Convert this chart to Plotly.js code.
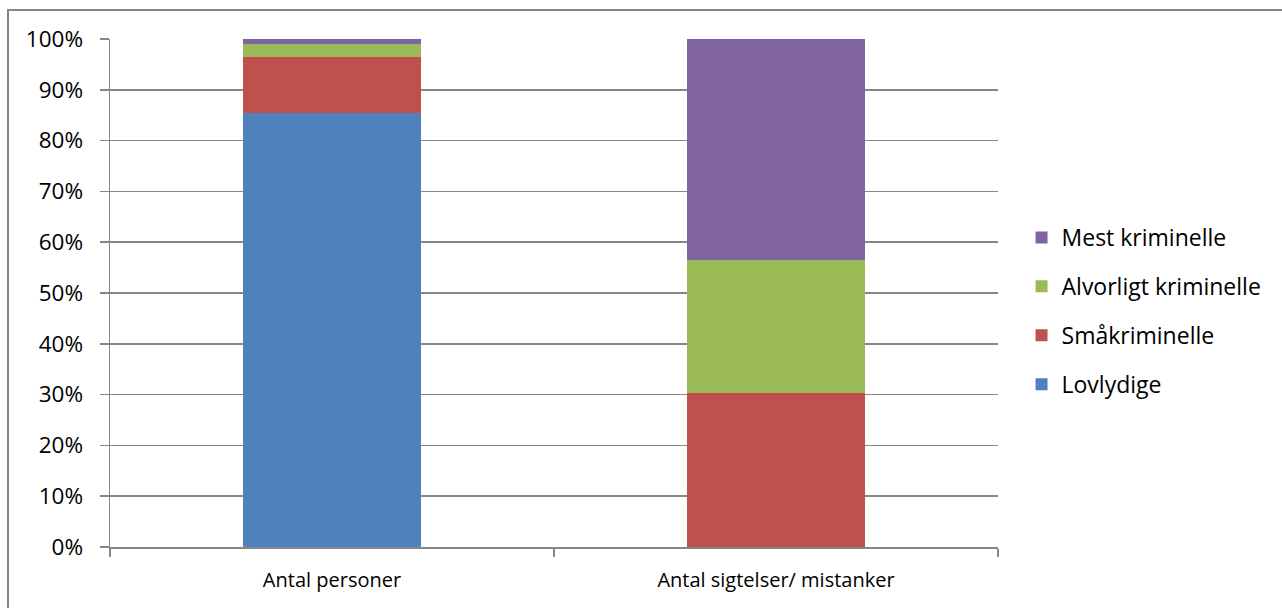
<!DOCTYPE html>
<html>
<head>
<meta charset="utf-8">
<script src="https://cdn.plot.ly/plotly-3.0.1.min.js"></script>
<style>html,body{margin:0;padding:0;background:#fff;}#chart{width:1282px;height:608px;}</style>
</head>
<body>
<div id="chart"></div>
<script>
const categories = ["Antal personer", "Antal sigtelser/ mistanker"];
const seriesNames = ["Lovlydige", "Småkriminelle", "Alvorligt kriminelle", "Mest kriminelle"];
const lovlydige = [0.855, 0.0];
const smaakriminelle = [0.110, 0.303];
const alvorligt = [0.025, 0.262];
const mest = [0.010, 0.435];
const colors = ["#4F81BD", "#C0504D", "#9BBB59", "#8064A2"];
const yTickVals = [0, 0.1, 0.2, 0.3, 0.4, 0.5, 0.6, 0.7, 0.8, 0.9, 1.0];
const yTickText = ["0%", "10%", "20%", "30%", "40%", "50%", "60%", "70%", "80%", "90%", "100%"];

const values = [lovlydige, smaakriminelle, alvorligt, mest];
const font = "'Open Sans', Lato, sans-serif";
const traces = seriesNames.map((n, i) => ({
  type: "bar",
  name: n,
  x: categories,
  y: values[i],
  marker: {color: colors[i], line: {width: 0}},
  legendgroup: "g" + i,
  legendrank: 100 - i,
  hoverinfo: "skip"
}));

const layout = {
  width: 1282, height: 608,
  margin: {l: 110, r: 284, t: 39, b: 61},
  paper_bgcolor: "#ffffff",
  plot_bgcolor: "#ffffff",
  barmode: "stack",
  bargap: 0.6,
  font: {family: font, size: 20, color: "#000000"},
  showlegend: true,
  legend: {
    x: 1.0265, xanchor: "left",
    y: 0.4646, yanchor: "middle",
    traceorder: "grouped",
    tracegroupgap: 16,
    font: {family: font, size: 23, color: "#000"},
    bgcolor: "rgba(0,0,0,0)"
  },
  xaxis: {
    type: "category",
    showgrid: false,
    showline: true, linecolor: "#868686", linewidth: 1.5,
    ticks: "outside", tickson: "boundaries", ticklen: 8, tickcolor: "#868686", tickwidth: 1.5,
    ticklabelstandoff: 14,
    tickfont: {family: font, size: 20, color: "#000"},
    fixedrange: true
  },
  yaxis: {
    range: [0, 1],
    tickmode: "array", tickvals: yTickVals, ticktext: yTickText,
    showgrid: true, gridcolor: "#868686", gridwidth: 1.5,
    showline: true, linecolor: "#868686", linewidth: 1.5,
    zeroline: false,
    ticks: "outside", ticklen: 9, tickcolor: "#868686", tickwidth: 1.5,
    ticklabelstandoff: 12,
    tickfont: {family: font, size: 22.5, color: "#000"},
    fixedrange: true
  },
  shapes: [{
    type: "rect", xref: "paper", yref: "paper",
    x0: (8 - 110) / 888, x1: 1.6,
    y0: -0.3, y1: 1 + (39 - 10) / 508,
    line: {color: "#868686", width: 2},
    fillcolor: "rgba(0,0,0,0)",
    layer: "below"
  }]
};

Plotly.newPlot("chart", traces, layout, {staticPlot: true, displayModeBar: false});
</script>
</body>
</html>
